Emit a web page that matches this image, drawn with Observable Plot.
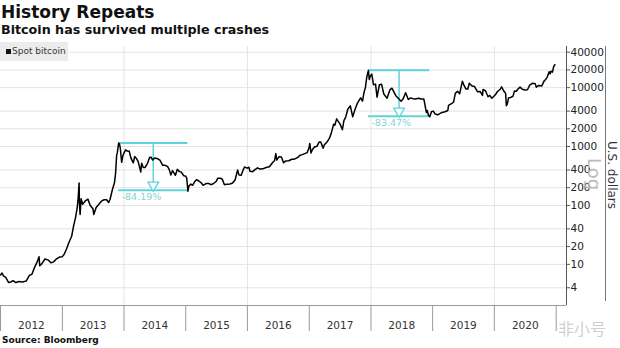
<!DOCTYPE html>
<html>
<head>
<meta charset="utf-8">
<script src="https://cdn.jsdelivr.net/npm/d3@7"></script>
<script src="https://cdn.jsdelivr.net/npm/@observablehq/plot@0.6"></script>
<style>
  html, body { margin: 0; padding: 0; background: #fff; }
  #wrap { position: relative; width: 620px; height: 348px; overflow: hidden; font-family: "DejaVu Sans", sans-serif; }
  .abs { position: absolute; white-space: nowrap; line-height: 1; }
  #title { left: 1px; top: 4px; font-size: 17px; font-weight: bold; color: #111; }
  #subtitle { left: 1px; top: 24px; font-size: 12.7px; font-weight: bold; color: #111; }
  #legend { left: 0; top: 42px; width: 68px; height: 19px; background: #ececec; }
  #legend .sw { position: absolute; left: 6px; top: 7px; width: 5px; height: 5px; background: #111; }
  #legend .lt { position: absolute; left: 12px; top: 5px; font-size: 9px; color: #333; }
  #chart { position: absolute; left: 0; top: 40px; }
  #source { left: 2px; top: 336px; font-size: 9px; font-weight: bold; color: #111; }
  #ytitle { left: 612px; top: 175px; font-size: 12px; color: #333; transform: translate(-50%, -50%) rotate(90deg); }
  #log { left: 594px; top: 174px; font-size: 18px; color: #bbb; transform: translate(-50%, -50%) rotate(90deg); }
  #rborder { left: 605px; top: 46px; width: 1px; height: 255px; background: #777; }
  #wm { left: 558px; top: 320px; font-size: 16px; color: rgba(190,190,190,0.75); font-family: "Noto Sans CJK SC", sans-serif; }
</style>
</head>
<body>
<div id="wrap">
  <div id="chart"></div>
  <div class="abs" id="title">History Repeats</div>
  <div class="abs" id="subtitle">Bitcoin has survived multiple crashes</div>
  <div class="abs" id="legend"><div class="sw"></div><div class="abs lt">Spot bitcoin</div></div>
  <div class="abs" id="rborder"></div>
  <div class="abs" id="log">Log</div>
  <div class="abs" id="ytitle">U.S. dollars</div>
  <div class="abs" id="wm">非小号</div>
  <div class="abs" id="source">Source: Bloomberg</div>
</div>
<script>
// ---- data ----
const dates = [
"2012-01-01","2012-01-10","2012-01-20","2012-02-01","2012-02-18","2012-03-01","2012-03-15","2012-04-01","2012-04-20","2012-05-10",
"2012-06-01","2012-06-20","2012-07-05","2012-07-20","2012-08-05","2012-08-16","2012-08-20","2012-09-01","2012-09-20","2012-10-10",
"2012-10-25","2012-11-10","2012-11-28","2012-12-15","2012-12-31",
"2013-01-10","2013-01-25","2013-02-10","2013-02-25","2013-03-08","2013-03-20","2013-03-30","2013-04-05","2013-04-10","2013-04-12",
"2013-04-16","2013-04-22","2013-05-01","2013-05-15","2013-06-01","2013-06-15","2013-07-01","2013-07-06","2013-07-20","2013-08-05",
"2013-08-20","2013-09-05","2013-09-20","2013-10-02","2013-10-10","2013-10-25","2013-11-05","2013-11-12","2013-11-18","2013-11-22",
"2013-11-30","2013-12-05","2013-12-10","2013-12-18","2013-12-25",
"2014-01-01","2014-01-10","2014-01-20","2014-02-01","2014-02-10","2014-02-20","2014-02-25","2014-03-05","2014-03-15","2014-03-25",
"2014-04-01","2014-04-10","2014-04-15","2014-04-25","2014-05-05","2014-05-20","2014-06-01","2014-06-10","2014-06-20","2014-07-01",
"2014-07-20","2014-08-01","2014-08-18","2014-09-01","2014-09-15","2014-09-25","2014-10-05","2014-10-15","2014-11-01","2014-11-12",
"2014-11-25","2014-12-05","2014-12-20","2014-12-31",
"2015-01-07","2015-01-14","2015-01-20","2015-02-01","2015-02-10","2015-02-20","2015-03-05","2015-03-20","2015-04-01","2015-04-14",
"2015-05-01","2015-05-15","2015-06-01","2015-06-15","2015-07-01","2015-07-10","2015-07-25","2015-08-05","2015-08-18","2015-09-01",
"2015-09-20","2015-10-05","2015-10-20","2015-11-04","2015-11-12","2015-11-25","2015-12-05","2015-12-15","2015-12-31",
"2016-01-10","2016-01-16","2016-02-01","2016-02-15","2016-03-01","2016-03-15","2016-04-01","2016-04-20","2016-05-10","2016-05-28",
"2016-06-10","2016-06-17","2016-06-23","2016-07-05","2016-07-20","2016-08-02","2016-08-15","2016-09-01","2016-09-20","2016-10-05",
"2016-10-25","2016-11-05","2016-11-20","2016-12-05","2016-12-20","2016-12-31",
"2017-01-04","2017-01-11","2017-01-20","2017-02-01","2017-02-15","2017-02-28","2017-03-10","2017-03-24","2017-04-01","2017-04-15",
"2017-05-01","2017-05-12","2017-05-25","2017-06-01","2017-06-12","2017-06-20","2017-07-01","2017-07-16","2017-07-25","2017-08-05",
"2017-08-17","2017-09-01","2017-09-15","2017-09-28","2017-10-12","2017-10-20","2017-11-01","2017-11-12","2017-11-20","2017-11-29",
"2017-12-07","2017-12-17","2017-12-22","2017-12-27",
"2018-01-06","2018-01-16","2018-01-28","2018-02-06","2018-02-20","2018-03-05","2018-03-18","2018-04-01","2018-04-06","2018-04-24",
"2018-05-05","2018-05-28","2018-06-10","2018-06-28","2018-07-10","2018-07-25","2018-08-10","2018-08-25","2018-09-05","2018-09-20",
"2018-10-10","2018-10-25","2018-11-10","2018-11-20","2018-11-25","2018-11-30","2018-12-07","2018-12-15","2018-12-25",
"2019-01-05","2019-01-15","2019-01-30","2019-02-10","2019-02-25","2019-03-15","2019-04-01","2019-04-05","2019-04-25","2019-05-05",
"2019-05-15","2019-05-28","2019-06-10","2019-06-26","2019-07-05","2019-07-17","2019-07-28","2019-08-06","2019-08-20","2019-09-05",
"2019-09-24","2019-10-10","2019-10-23","2019-10-26","2019-11-10","2019-11-25","2019-12-05","2019-12-17","2019-12-31",
"2020-01-10","2020-01-20","2020-02-05","2020-02-13","2020-02-28","2020-03-08","2020-03-12","2020-03-18","2020-03-25","2020-04-05",
"2020-04-20","2020-04-29","2020-05-10","2020-05-20","2020-06-01","2020-06-15","2020-06-30","2020-07-15","2020-07-28","2020-08-15",
"2020-08-30","2020-09-05","2020-09-20","2020-10-08","2020-10-21","2020-10-31","2020-11-10","2020-11-20","2020-11-26","2020-12-01",
"2020-12-10","2020-12-17","2020-12-24"
];
const prices = [
6.6,7.1,6.3,6.0,4.9,5.0,5.3,4.9,5.1,5.0,
5.2,6.5,6.8,8.8,11,13.5,9.5,10.2,12.3,11.8,
10.6,11.0,12.4,13.3,13.5,
14.5,18,24,30,44,62,92,140,240,110,
70,130,105,118,128,100,88,70,92,105,
118,125,125,112,126,190,240,355,700,780,
1150,1100,930,540,700,
780,880,840,830,650,560,530,680,630,560,
470,370,520,440,440,520,650,660,590,640,
620,590,480,480,460,410,330,390,325,410,
375,370,320,315,
290,175,215,230,220,245,275,260,245,220,
235,237,225,236,258,290,290,280,225,230,
232,240,270,400,330,325,390,450,430,
445,380,375,405,435,415,418,440,455,530,
580,760,590,670,665,530,570,575,610,610,
655,705,730,760,790,960,
1130,780,890,980,1010,1190,1200,940,1080,1180,
1400,1720,2400,2300,2950,2700,2450,1930,2750,3200,
4300,4900,3200,4200,5400,5900,6700,5900,8100,10000,
15000,19600,13800,15500,
17000,11200,11500,6900,11200,11400,7800,6900,6600,9300,
9800,7300,6700,5900,6400,8200,6300,6700,6500,6400,
6600,6400,6400,4500,3800,4100,3400,3200,3900,
4000,3600,3450,3600,3800,3900,4100,5000,5400,5700,
8000,8700,7900,12900,11000,9500,9500,11900,10800,10500,
8500,8600,7400,9300,8800,7000,7400,6600,7200,
7800,8600,9400,10300,8600,8000,4950,5300,6700,6800,
7100,8800,8700,9500,10200,9400,9150,9200,11000,11900,
11700,10200,10900,10700,12900,13800,15300,18600,17100,19000,
18300,22800,24500
];
// tick values
const yTicks = [4, 10, 20, 40, 100, 200, 400, 1000, 2000, 4000, 10000, 20000, 40000];
const yTickLabels = ["4", "10", "20", "40", "100", "200", "400", "1000", "2000", "4000", "10000", "20000", "40000"];
const years = [2012, 2013, 2014, 2015, 2016, 2017, 2018, 2019, 2020];
const gridYears = [2014, 2016, 2018, 2020];
// drawdown annotations
const crashStart = ["2013-11-30", "2017-12-17"];
const crashEnd = ["2015-01-14", "2018-12-15"];
const crashPeak = [1150, 19800];
const crashLabel = ["-84.19%", "-83.47%"];
const crashPct = [84.19, 83.47];

// ---- build ----
const P = (s) => new Date(s + "T00:00:00Z");
const series = dates.map((d, i) => ({date: P(d), price: prices[i]}));
const yearStarts = years.concat([2021]).map(y => new Date(Date.UTC(y, 0, 1)));
const yearMids = years.map(y => new Date(Date.UTC(y, 6, 2)));
const crashes = crashStart.map((s, i) => {
  const a = P(s), b = P(crashEnd[i]);
  const mid = new Date((+a + +b) / 2);
  return {a, b, mid, top: crashPeak[i], bot: crashPeak[i] * (1 - crashPct[i] / 100), label: crashLabel[i]};
});
const yLab = yTicks.map((v, i) => ({v, t: yTickLabels[i]}));
const cyan = "#62d2da";
const xEnd = new Date(Date.UTC(2021, 2, 3));

const chart = Plot.plot({
  width: 620,
  height: 295,
  marginTop: 6,
  marginBottom: 30,
  marginLeft: 0,
  marginRight: 54,
  style: {fontFamily: "DejaVu Sans, sans-serif", fontSize: "10px", color: "#333", background: "transparent"},
  x: {type: "utc", domain: [new Date(Date.UTC(2012, 0, 1)), xEnd]},
  y: {type: "log", domain: [2, 50000]},
  marks: [
    Plot.gridY(yTicks, {stroke: "#e3e3e3", strokeOpacity: 1}),
    Plot.gridX(gridYears.map(y => new Date(Date.UTC(y, 0, 1))), {stroke: "#e3e3e3", strokeOpacity: 1}),
    Plot.ruleY([2], {stroke: "#9a9a9a"}),
    Plot.ruleX([xEnd], {stroke: "#555"}),
    Plot.axisX({ticks: yearStarts, tickSize: 26, tickFormat: () => "", stroke: "#9a9a9a"}),
    Plot.axisX({ticks: yearMids, tickSize: 0, tickPadding: 16, tickFormat: d => String(d.getUTCFullYear()), fontSize: 10.5, fill: "#333"}),
    Plot.axisY({anchor: "right", ticks: yTicks, tickSize: 3, tickFormat: () => "", stroke: "#555", label: null}),
    Plot.text(yLab, {x: () => xEnd, y: "v", text: "t", dx: 4, textAnchor: "start", fontSize: 10.5, fill: "#222"}),
    // annotations
    Plot.ruleY(crashes, {x1: "a", x2: "b", y: "top", stroke: cyan, strokeWidth: 2}),
    Plot.ruleY(crashes, {x1: "a", x2: "b", y: "bot", stroke: cyan, strokeWidth: 2}),
    Plot.ruleX(crashes, {x: "mid", y1: "top", y2: "bot", stroke: cyan, strokeWidth: 1.5}),
    Plot.dot(crashes, {x: "mid", y: "bot", symbol: "triangle", rotate: 180, r: 4, dy: -5, fill: "white", stroke: cyan, strokeWidth: 1.3}),
    Plot.text(crashes, {x: "a", y: "bot", text: "label", dx: 3, dy: 7, textAnchor: "start", fill: "#7fd4da", fontSize: 9.5}),
    // price line
    Plot.line(series, {x: "date", y: "price", stroke: "#000", strokeWidth: 1.5, strokeLinejoin: "round"})
  ]
});
document.getElementById("chart").appendChild(chart);
</script>
</body>
</html>
